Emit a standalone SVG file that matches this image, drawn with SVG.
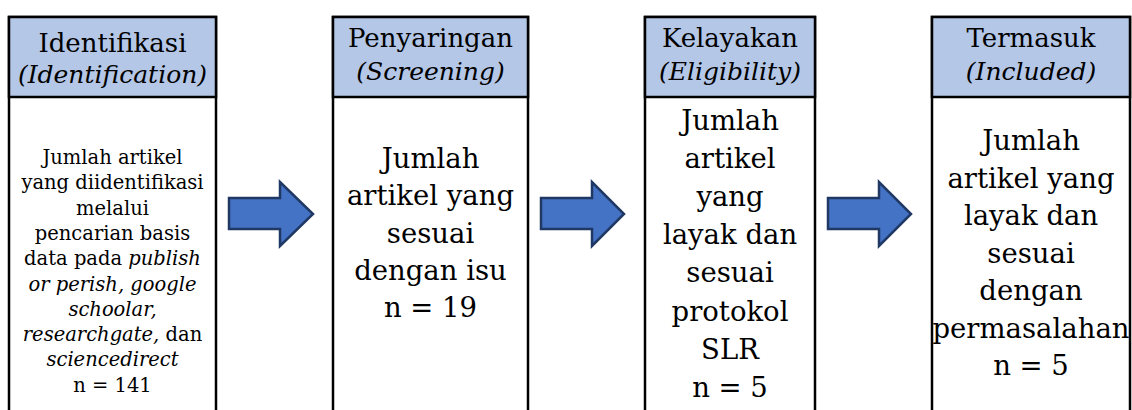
<svg xmlns="http://www.w3.org/2000/svg" width="1132" height="410" viewBox="0 0 1132 410">
  <style>
    .box { fill: #ffffff; stroke: #000000; stroke-width: 2.5; }
    .hdr { fill: #B4C7E7; stroke: #000000; stroke-width: 2.5; }
    .t { font-family: "DejaVu Serif", "Liberation Serif", serif; fill: #000000; text-anchor: middle; }
    .h { font-size: 26px; }
    .hi { font-size: 25px; font-style: italic; }
    .b { font-size: 27.5px; }
    .s { font-size: 19.5px; }
    .i { font-style: italic; }
    .arrow { fill: #4472C4; stroke: #1F3864; stroke-width: 2.5; stroke-linejoin: miter; }
  </style>
  <rect width="1132" height="410" fill="#ffffff"/>

  <g id="node-identifikasi">
    <rect class="box" x="9" y="17" width="207" height="410"/>
    <rect class="hdr" x="9" y="17" width="207" height="80"/>
    <text class="t h" x="112.5" y="52">Identifikasi</text>
    <text class="t hi" x="112.5" y="83">(Identification)</text>
    <text class="t s" x="112.5" y="164">Jumlah artikel</text>
    <text class="t s" x="112.5" y="189.3">yang diidentifikasi</text>
    <text class="t s" x="112.5" y="214.6">melalui</text>
    <text class="t s" x="112.5" y="239.9">pencarian basis</text>
    <text class="t s" x="112.5" y="265.2">data pada <tspan class="i">publish</tspan></text>
    <text class="t s i" x="112.5" y="290.5">or perish, google</text>
    <text class="t s i" x="112.5" y="315.8">schoolar,</text>
    <text class="t s" x="112.5" y="341.1"><tspan class="i">researchgate,</tspan> dan</text>
    <text class="t s i" x="112.5" y="366.4">sciencedirect</text>
    <text class="t s" x="112.5" y="391.7">n = 141</text>
  </g>

  <g id="node-penyaringan">
    <rect class="box" x="333" y="17" width="195" height="410"/>
    <rect class="hdr" x="333" y="17" width="195" height="80"/>
    <text class="t h" x="430.5" y="47">Penyaringan</text>
    <text class="t hi" x="430.5" y="80">(Screening)</text>
    <text class="t b" x="430.5" y="168">Jumlah</text>
    <text class="t b" x="430.5" y="205.3">artikel yang</text>
    <text class="t b" x="430.5" y="242.6">sesuai</text>
    <text class="t b" x="430.5" y="279.9">dengan isu</text>
    <text class="t b" x="430.5" y="317.2">n = 19</text>
  </g>

  <g id="node-kelayakan">
    <rect class="box" x="645" y="17" width="170" height="410"/>
    <rect class="hdr" x="645" y="17" width="170" height="80"/>
    <text class="t h" x="730" y="47">Kelayakan</text>
    <text class="t hi" x="730" y="80">(Eligibility)</text>
    <text class="t b" x="730" y="130">Jumlah</text>
    <text class="t b" x="730" y="168.1">artikel</text>
    <text class="t b" x="730" y="206.2">yang</text>
    <text class="t b" x="730" y="244.3">layak dan</text>
    <text class="t b" x="730" y="282.4">sesuai</text>
    <text class="t b" x="730" y="320.5">protokol</text>
    <text class="t b" x="730" y="358.6">SLR</text>
    <text class="t b" x="730" y="396.7">n = 5</text>
  </g>

  <g id="node-termasuk">
    <rect class="box" x="932" y="17" width="198" height="410"/>
    <rect class="hdr" x="932" y="17" width="198" height="80"/>
    <text class="t h" x="1031" y="47">Termasuk</text>
    <text class="t hi" x="1031" y="80">(Included)</text>
    <text class="t b" x="1031" y="150">Jumlah</text>
    <text class="t b" x="1031" y="187.5">artikel yang</text>
    <text class="t b" x="1031" y="225">layak dan</text>
    <text class="t b" x="1031" y="262.5">sesuai</text>
    <text class="t b" x="1031" y="300">dengan</text>
    <text class="t b" x="1031" y="337.5">permasalahan</text>
    <text class="t b" x="1031" y="375">n = 5</text>
  </g>

  <g id="connectors">
    <path class="arrow" d="M229,198 H280 V182 L313,214 L280,246 V229 H229 Z"/>
    <path class="arrow" d="M541,198 H592 V182 L624,214 L592,246 V229 H541 Z"/>
    <path class="arrow" d="M828,198 H879 V182 L911,214 L879,246 V229 H828 Z"/>
  </g>
</svg>
